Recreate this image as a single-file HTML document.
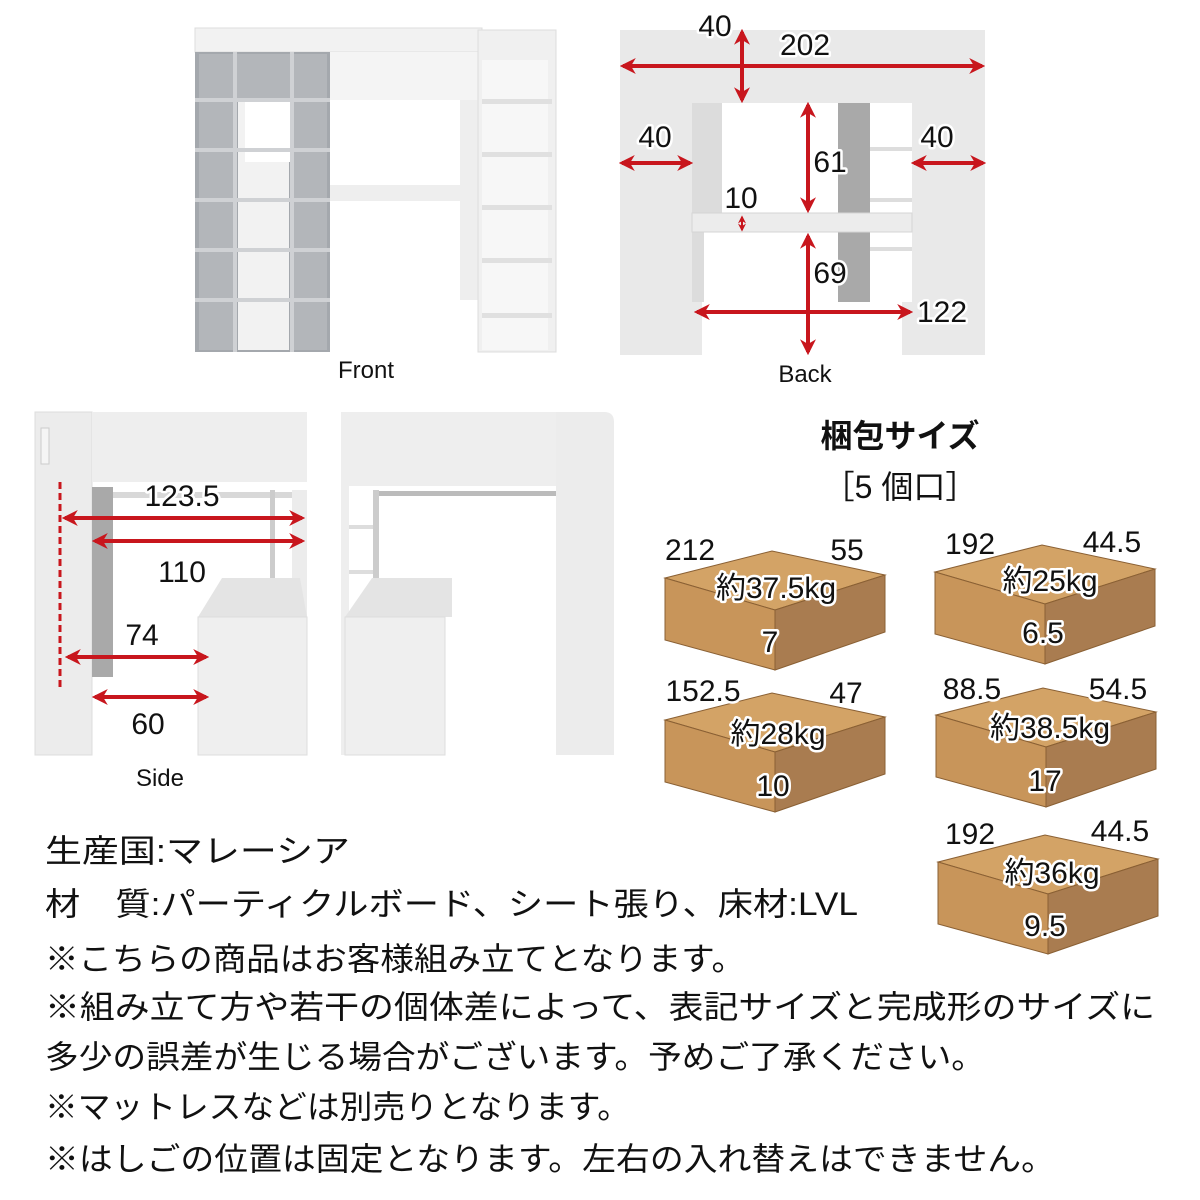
<!DOCTYPE html>
<html><head><meta charset="utf-8"><style>
html,body{margin:0;padding:0;background:#fff;}
svg{display:block;}
.j{font-family:"Liberation Sans","Noto Sans CJK JP",sans-serif;font-size:32px;fill:#111;}
.n{font-family:"Liberation Sans","Noto Sans CJK JP",sans-serif;font-size:30px;fill:#111;stroke:#fff;stroke-width:5px;paint-order:stroke;stroke-linejoin:round;}
.lb{font-family:"Liberation Sans",sans-serif;font-size:24px;fill:#111;}
</style></head><body>
<svg width="1200" height="1200" viewBox="0 0 1200 1200" xmlns="http://www.w3.org/2000/svg">
<defs>
<marker id="a" viewBox="0 0 10 10" refX="8" refY="5" markerWidth="4" markerHeight="4" orient="auto-start-reverse"><path d="M0,0 L10,5 L0,10 L3,5 z" fill="#c8161d"/></marker>
<g id="box">
<polygon points="0,27 107,0 220,24 110,59" fill="#d3a366" stroke="#8a6034" stroke-width="1"/>
<polygon points="0,27 110,59 110,119 0,89" fill="#c8955a" stroke="#8a6034" stroke-width="1"/>
<polygon points="110,59 220,24 220,81 110,119" fill="#a97c50" stroke="#8a6034" stroke-width="1"/>
</g>
</defs>

<!-- FRONT -->
<g>
<rect x="195" y="28" width="287" height="24" fill="#f2f2f2" stroke="#ddd"/>
<rect x="330" y="52" width="148" height="48" fill="#f4f4f4"/>
<rect x="330" y="185" width="148" height="16" fill="#eeeeee"/>
<rect x="460" y="100" width="18" height="200" fill="#eee"/>
<rect x="195" y="52" width="135" height="300" fill="#a4a8ad"/>
<rect x="199" y="54" width="34" height="296" fill="#b3b6ba"/>
<rect x="293" y="54" width="34" height="296" fill="#b3b6ba"/>
<rect x="237" y="54" width="53" height="46" fill="#b3b6ba"/>
<rect x="238" y="102" width="51" height="248" fill="#f2f2f2"/>
<rect x="245" y="102" width="45" height="60" fill="#fff"/>
<g fill="#cfd1d4">
<rect x="195" y="98" width="135" height="4"/><rect x="195" y="148" width="135" height="4"/><rect x="195" y="198" width="135" height="4"/><rect x="195" y="248" width="135" height="4"/><rect x="195" y="298" width="135" height="4"/>
<rect x="233" y="52" width="4" height="300"/><rect x="290" y="52" width="4" height="300"/>
</g>
<rect x="478" y="30" width="78" height="322" fill="#f0f0f0" stroke="#ddd"/>
<rect x="482" y="60" width="66" height="290" fill="#f7f7f7"/>
<g fill="#e0e0e0"><rect x="482" y="99" width="70" height="5"/><rect x="482" y="152" width="70" height="5"/><rect x="482" y="205" width="70" height="5"/><rect x="482" y="258" width="70" height="5"/><rect x="482" y="313" width="70" height="5"/></g>
<text x="366" y="378" class="lb" text-anchor="middle">Front</text>
</g>

<!-- BACK -->
<g>
<rect x="620" y="30" width="365" height="325" fill="#e9e9e9"/>
<rect x="692" y="103" width="220" height="110" fill="#fff"/>
<rect x="692" y="232" width="220" height="123" fill="#fff"/>
<rect x="692" y="103" width="30" height="110" fill="#dcdcdc"/>
<rect x="692" y="232" width="12" height="70" fill="#dcdcdc"/>
<rect x="838" y="103" width="32" height="110" fill="#a9a9a9"/>
<rect x="838" y="232" width="32" height="70" fill="#a9a9a9"/>
<rect x="870" y="147" width="42" height="4" fill="#ddd"/><rect x="870" y="198" width="42" height="4" fill="#ddd"/><rect x="870" y="247" width="42" height="4" fill="#ddd"/>
<rect x="692" y="213" width="220" height="19" fill="#ececec" stroke="#d5d5d5"/>
<rect x="692" y="302" width="10" height="53" fill="#e9e9e9"/><rect x="902" y="302" width="10" height="53" fill="#e9e9e9"/>
<g stroke="#c8161d" stroke-width="4" marker-start="url(#a)" marker-end="url(#a)" fill="none">
<line x1="623" y1="66" x2="982" y2="66"/>
<line x1="742" y1="32" x2="742" y2="100"/>
<line x1="622" y1="163" x2="690" y2="163"/>
<line x1="914" y1="163" x2="983" y2="163"/>
<line x1="808" y1="105" x2="808" y2="210"/>
<line x1="742" y1="217" x2="742" y2="230" stroke-width="2"/>
<line x1="808" y1="236" x2="808" y2="352"/>
<line x1="697" y1="312" x2="910" y2="312"/>
</g>
<text x="715" y="36" class="n" text-anchor="middle">40</text>
<text x="805" y="55" class="n" text-anchor="middle">202</text>
<text x="655" y="147" class="n" text-anchor="middle">40</text>
<text x="937" y="147" class="n" text-anchor="middle">40</text>
<text x="830" y="172" class="n" text-anchor="middle">61</text>
<text x="741" y="208" class="n" text-anchor="middle">10</text>
<text x="830" y="283" class="n" text-anchor="middle">69</text>
<text x="942" y="322" class="n" text-anchor="middle">122</text>
<text x="805" y="382" class="lb" text-anchor="middle">Back</text>
</g>

<!-- SIDE left -->
<g>
<rect x="35" y="412" width="57" height="343" fill="#ececec" stroke="#ddd"/>
<rect x="41" y="428" width="8" height="36" fill="#f5f5f5" stroke="#ccc"/>
<rect x="92" y="412" width="215" height="70" fill="#eeeeee"/>
<rect x="92" y="487" width="21" height="190" fill="#a9a9a9"/>
<rect x="113" y="492" width="190" height="6" fill="#d8d8d8"/>
<rect x="270" y="490" width="5" height="110" fill="#ccc"/>
<rect x="292" y="490" width="15" height="265" fill="#ececec"/>
<polygon points="198,617 222,578 300,578 307,617" fill="#e4e4e4"/>
<rect x="198" y="617" width="109" height="138" fill="#efefef" stroke="#ddd"/>
<line x1="60" y1="482" x2="60" y2="688" stroke="#c8161d" stroke-width="3" stroke-dasharray="7,4"/>
<g stroke="#c8161d" stroke-width="4" marker-start="url(#a)" marker-end="url(#a)" fill="none">
<line x1="65" y1="518" x2="302" y2="518"/>
<line x1="95" y1="541" x2="302" y2="541"/>
<line x1="68" y1="657" x2="206" y2="657"/>
<line x1="95" y1="697" x2="206" y2="697"/>
</g>
<text x="182" y="506" class="n" text-anchor="middle">123.5</text>
<text x="182" y="582" class="n" text-anchor="middle">110</text>
<text x="142" y="645" class="n" text-anchor="middle">74</text>
<text x="148" y="734" class="n" text-anchor="middle">60</text>
<text x="160" y="786" class="lb" text-anchor="middle">Side</text>
</g>
<!-- SIDE right -->
<g>
<rect x="341" y="412" width="215" height="74" fill="#eeeeee"/>
<path d="M556,412 H604 Q614,412 614,422 V755 H556 Z" fill="#ececec"/>
<rect x="341" y="486" width="8" height="269" fill="#eee"/>
<rect x="373" y="490" width="6" height="100" fill="#ccc"/>
<rect x="379" y="491" width="177" height="5" fill="#bbb"/>
<rect x="349" y="525" width="24" height="4" fill="#ddd"/><rect x="349" y="570" width="24" height="4" fill="#ddd"/>
<polygon points="345,617 372,578 452,578 452,617" fill="#e4e4e4"/>
<rect x="345" y="617" width="100" height="138" fill="#efefef" stroke="#ddd"/>
</g>

<!-- package -->
<text x="900" y="447" class="j" text-anchor="middle" font-weight="bold" font-size="34">梱包サイズ</text>
<text x="900" y="498" class="j" text-anchor="middle">［5 個口］</text>

<use href="#box" x="665" y="551"/>
<use href="#box" x="935" y="545"/>
<use href="#box" x="665" y="693"/>
<use href="#box" x="936" y="688"/>
<use href="#box" x="938" y="835"/>

<text x="690" y="560" class="n" text-anchor="middle">212</text>
<text x="847" y="560" class="n" text-anchor="middle">55</text>
<text x="776" y="598" class="n" text-anchor="middle">約37.5kg</text>
<text x="770" y="652" class="n" text-anchor="middle">7</text>

<text x="970" y="554" class="n" text-anchor="middle">192</text>
<text x="1112" y="552" class="n" text-anchor="middle">44.5</text>
<text x="1050" y="591" class="n" text-anchor="middle">約25kg</text>
<text x="1043" y="643" class="n" text-anchor="middle">6.5</text>

<text x="703" y="701" class="n" text-anchor="middle">152.5</text>
<text x="846" y="703" class="n" text-anchor="middle">47</text>
<text x="778" y="744" class="n" text-anchor="middle">約28kg</text>
<text x="773" y="796" class="n" text-anchor="middle">10</text>

<text x="972" y="699" class="n" text-anchor="middle">88.5</text>
<text x="1118" y="699" class="n" text-anchor="middle">54.5</text>
<text x="1050" y="738" class="n" text-anchor="middle">約38.5kg</text>
<text x="1045" y="791" class="n" text-anchor="middle">17</text>

<text x="970" y="844" class="n" text-anchor="middle">192</text>
<text x="1120" y="841" class="n" text-anchor="middle">44.5</text>
<text x="1052" y="883" class="n" text-anchor="middle">約36kg</text>
<text x="1045" y="936" class="n" text-anchor="middle">9.5</text>

<!-- text -->
<text x="45" y="862" class="j" textLength="305" lengthAdjust="spacingAndGlyphs">生産国:マレーシア</text>
<text x="45" y="915" class="j" textLength="813" lengthAdjust="spacingAndGlyphs">材　質:パーティクルボード、シート張り、床材:LVL</text>
<text x="45" y="970" class="j" textLength="700" lengthAdjust="spacingAndGlyphs">※こちらの商品はお客様組み立てとなります。</text>
<text x="45" y="1018" class="j" textLength="1110" lengthAdjust="spacingAndGlyphs">※組み立て方や若干の個体差によって、表記サイズと完成形のサイズに</text>
<text x="45" y="1068" class="j" textLength="940" lengthAdjust="spacingAndGlyphs">多少の誤差が生じる場合がございます。予めご了承ください。</text>
<text x="45" y="1118" class="j" textLength="585" lengthAdjust="spacingAndGlyphs">※マットレスなどは別売りとなります。</text>
<text x="45" y="1170" class="j" textLength="1010" lengthAdjust="spacingAndGlyphs">※はしごの位置は固定となります。左右の入れ替えはできません。</text>
</svg>
</body></html>
